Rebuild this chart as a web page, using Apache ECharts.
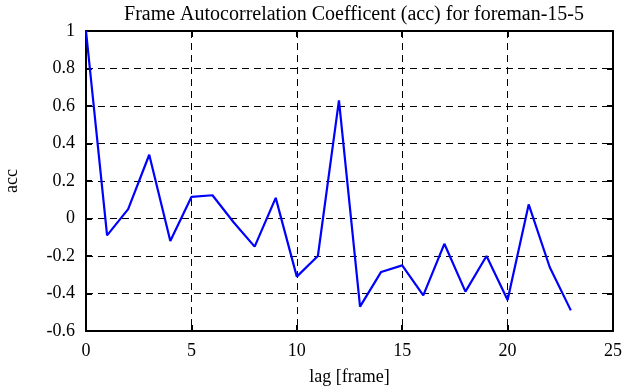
<!DOCTYPE html>
<html>
<head>
<meta charset="utf-8">
<script src="https://cdn.jsdelivr.net/npm/echarts@6/dist/echarts.min.js"></script>
<style>
html, body { margin: 0; padding: 0; background: #fff; }
#main { width: 635px; height: 387px; }
</style>
</head>
<body>
<div id="main"></div>
<script>
// lag values and autocorrelation coefficients
var lags = [0, 1, 2, 3, 4, 5, 6, 7, 8, 9, 10, 11, 12, 13, 14, 15, 16, 17, 18, 19, 20, 21, 22, 23];
var acc = [1.0, -0.09, 0.05, 0.34, -0.12, 0.115, 0.124, -0.02, -0.15, 0.11, -0.31, -0.2, 0.63,
    -0.47, -0.285, -0.25, -0.41, -0.135, -0.39, -0.2, -0.435, 0.075, -0.26, -0.49];

var chartDom = document.getElementById('main');
var myChart = echarts.init(chartDom);
var option;

var font = 'Liberation Serif';
var dashed = { show: true, lineStyle: { color: '#000', type: [7, 5], width: 1 } };
var tick = { show: true, inside: true, length: 6, lineStyle: { color: '#000', width: 2 } };
var line = { show: true, onZero: false, lineStyle: { color: '#000', width: 2 } };

option = {
    animation: false,
    backgroundColor: '#fff',
    title: {
        text: 'Frame Autocorrelation Coefficent (acc) for foreman-15-5',
        left: 349, top: 0, textAlign: 'center',
        textStyle: { fontFamily: font, fontSize: 20, fontWeight: 'normal', color: '#000' }
    },
    grid: { left: 86, right: 22, top: 31, bottom: 56, outerBoundsMode: 'none' },
    xAxis: [
        {
            type: 'value', min: 0, max: 25, interval: 5,
            name: 'lag [frame]', nameLocation: 'middle', nameGap: 37,
            nameTextStyle: { fontFamily: font, fontSize: 18, color: '#000' },
            axisLine: line, axisTick: tick, splitLine: dashed,
            axisLabel: { fontFamily: font, fontSize: 18, color: '#000', margin: 11 }
        },
        {
            type: 'value', position: 'top', min: 0, max: 25, interval: 5,
            axisLine: line, axisTick: tick, splitLine: { show: false },
            axisLabel: { show: false }
        }
    ],
    yAxis: [
        {
            type: 'value', min: -0.6, max: 1, interval: 0.2,
            name: 'acc', nameLocation: 'middle', nameGap: 65,
            nameTextStyle: { fontFamily: font, fontSize: 18, color: '#000' },
            axisLine: line, axisTick: tick, splitLine: dashed,
            axisLabel: {
                fontFamily: font, fontSize: 18, color: '#000', margin: 11,
                formatter: function (v) { return +v.toFixed(1) + ''; }
            }
        },
        {
            type: 'value', position: 'right', min: -0.6, max: 1, interval: 0.2,
            axisLine: line, axisTick: tick, splitLine: { show: false },
            axisLabel: { show: false }
        }
    ],
    series: [
        {
            type: 'line',
            data: lags.map(function (l, i) { return [l, acc[i]]; }),
            symbol: 'none',
            lineStyle: { color: '#0000ff', width: 2.2 },
            z: 5
        }
    ]
};

option && myChart.setOption(option);
</script>
</body>
</html>
